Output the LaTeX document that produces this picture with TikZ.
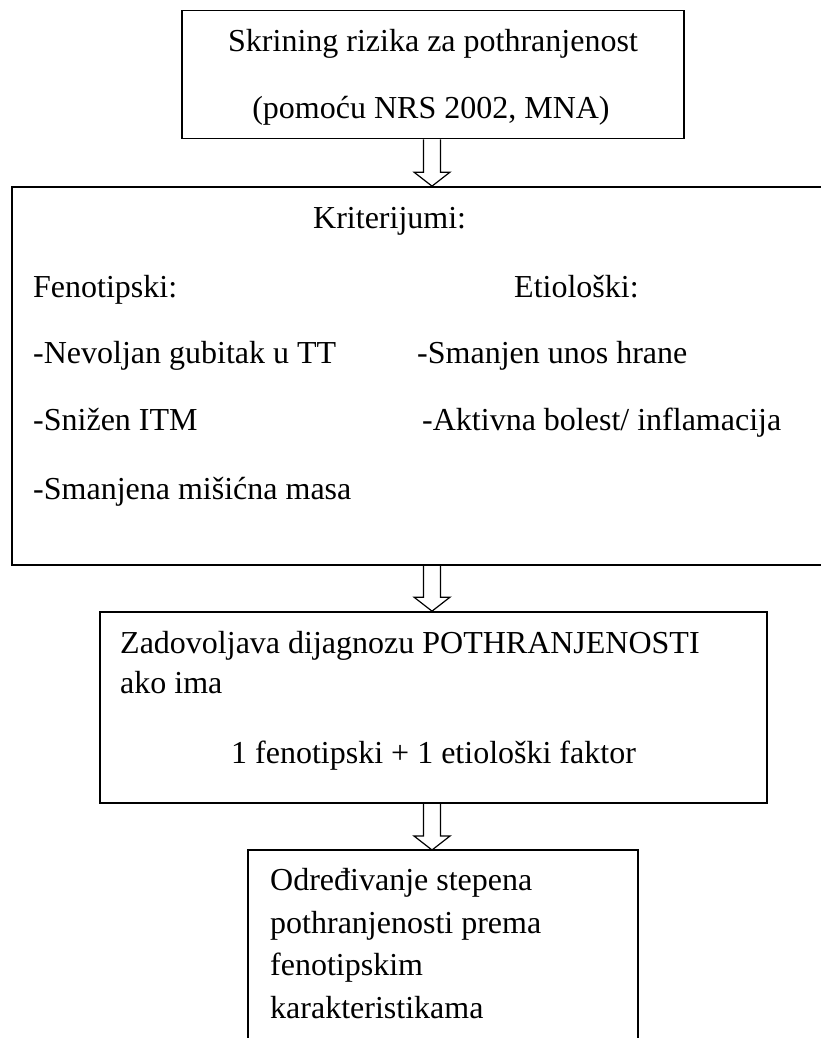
\documentclass[tikz,border=0pt]{standalone}
\usepackage{fontspec}
\setmainfont{Liberation Serif}
\usetikzlibrary{calc}
\begin{document}
\begin{tikzpicture}[x=1pt,y=-1pt,
  box/.style={draw,line width=1.7pt,inner sep=0pt},
  txt/.style={inner sep=0pt,anchor=base west,font=\fontsize{32}{36}\selectfont},
  ctxt/.style={inner sep=0pt,anchor=base,font=\fontsize{32}{36}\selectfont},
  hollow/.style={draw,line width=1.2pt,line join=miter}]
\useasboundingbox (0,0) rectangle (820,1038);
% boxes
\node[box,minimum width=502pt,minimum height=128pt] (b1) at (433,74.5) {};
\node[box,minimum width=814pt,minimum height=378pt] (b2) at (419,376) {};
\node[box,minimum width=667pt,minimum height=191pt] (b3) at (433.5,707.5) {};
\coordinate (b4n) at (443,850);
\coordinate (b4sw) at (248,1042);
\coordinate (b4se) at (638,1042);
\draw[line width=1.7pt] (b4sw) |- (b4n) -| (b4se);
% texts box 1
\node[ctxt] (t1) at (433,52) {Skrining rizika za pothranjenost};
\node[ctxt] (t2) at (431,118) {(pomoću NRS 2002, MNA)};
% box 2
\node[txt] (k) at (313,228) {Kriterijumi:};
\node[txt] (f) at (33,297) {Fenotipski:};
\node[txt] (e) at (514,297) {Etiološki:};
\node[txt] (f1) at (33,363) {-Nevoljan gubitak u TT};
\node[txt] (e1) at (417,363) {-Smanjen unos hrane};
\node[txt] (f2) at (33,430) {-Snižen ITM};
\node[txt] (e2) at (422,430) {-Aktivna bolest/ inflamacija};
\node[txt] (f3) at (33,499) {-Smanjena mišićna masa};
% box 3
\node[txt] (z1) at (120,653) {Zadovoljava dijagnozu POTHRANJENOSTI};
\node[txt] (z2) at (120,693) {ako ima};
\node[txt] (z3) at (231,763) {1 fenotipski + 1 etiološki faktor};
% box 4
\node[txt] (o1) at (270,890) {Određivanje stepena};
\node[txt] (o2) at (270,933) {pothranjenosti prema};
\node[txt] (o3) at (270,975) {fenotipskim};
\node[txt] (o4) at (270,1018) {karakteristikama};
% hollow arrows
\coordinate (a1s) at (432,0 |- b1.south);
\coordinate (a1e) at (432,0 |- b2.north);
\draw[hollow] ($(a1s)+(-8.5,0)$) -- ($(a1e)+(-8.5,-14)$) -- ($(a1e)+(-18,-14)$) -- (a1e) -- ($(a1e)+(18,-14)$) -- ($(a1e)+(8.5,-14)$) -- ($(a1s)+(8.5,0)$);
\coordinate (a2s) at (432,0 |- b2.south);
\coordinate (a2e) at (432,0 |- b3.north);
\draw[hollow] ($(a2s)+(-8.5,0)$) -- ($(a2e)+(-8.5,-14)$) -- ($(a2e)+(-18,-14)$) -- (a2e) -- ($(a2e)+(18,-14)$) -- ($(a2e)+(8.5,-14)$) -- ($(a2s)+(8.5,0)$);
\coordinate (a3s) at (432,0 |- b3.south);
\coordinate (a3e) at (432,0 |- b4n);
\draw[hollow] ($(a3s)+(-8.5,0)$) -- ($(a3e)+(-8.5,-14)$) -- ($(a3e)+(-18,-14)$) -- (a3e) -- ($(a3e)+(18,-14)$) -- ($(a3e)+(8.5,-14)$) -- ($(a3s)+(8.5,0)$);
\end{tikzpicture}
\end{document}
